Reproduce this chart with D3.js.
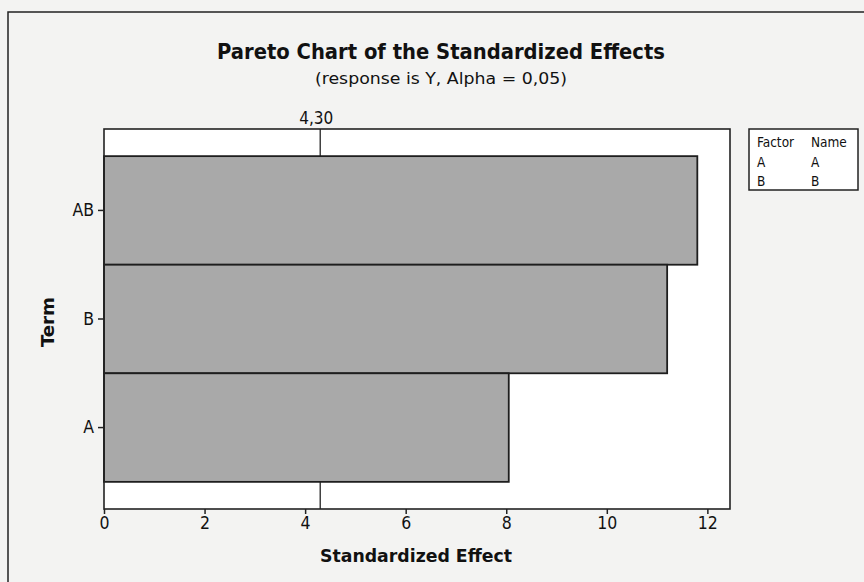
<!DOCTYPE html>
<html><head><meta charset="utf-8">
<script src="https://cdn.jsdelivr.net/npm/d3@7"></script>
<style>body{margin:0;background:#f3f3f2;} svg{display:block;}</style>
</head><body>
<svg id="chart" width="864" height="582"></svg>
<script>
const terms = ["AB", "B", "A"];
const effects = [11.8, 11.2, 8.05];
const xTicks = [0, 2, 4, 6, 8, 10, 12];
const refValue = 4.30;
const refLabel = "4,30";
const legendRows = [["Factor", "Name"], ["A", "A"], ["B", "B"]];

const svg = d3.select("#chart");
const font = "'DejaVu Sans Condensed', 'DejaVu Sans', sans-serif";
const L = 104, R = 730, T = 129, B = 509;

svg.append("rect").attr("x", 0).attr("y", 0).attr("width", 864).attr("height", 582).attr("fill", "#f3f3f2");
svg.append("rect").attr("x", 8).attr("y", 12).attr("width", 880).attr("height", 600)
  .attr("fill", "none").attr("stroke", "#222").attr("stroke-width", 1.5);

const x = d3.scaleLinear().domain([0, 12.45]).range([L, R]);
const y = d3.scaleBand().domain(terms).range([T, B]).paddingInner(0).paddingOuter(0.25);

svg.append("rect").attr("x", L).attr("y", T).attr("width", R - L).attr("height", B - T)
  .attr("fill", "#ffffff");

svg.append("line").attr("x1", x(refValue)).attr("x2", x(refValue)).attr("y1", T).attr("y2", B)
  .attr("stroke", "#222").attr("stroke-width", 1.3);

svg.selectAll("rect.bar").data(terms).enter().append("rect").attr("class", "bar")
  .attr("x", x(0)).attr("y", d => y(d))
  .attr("width", (d, i) => x(effects[i]) - x(0)).attr("height", y.bandwidth())
  .attr("fill", "#a9a9a9").attr("stroke", "#1e1e1e").attr("stroke-width", 1.8);

svg.append("text").attr("x", x(refValue) - 4).attr("y", 124).attr("text-anchor", "middle")
  .attr("font-family", font).attr("font-stretch", "condensed").attr("font-size", 17).attr("fill", "#111").text(refLabel);

svg.append("rect").attr("x", L).attr("y", T).attr("width", R - L).attr("height", B - T)
  .attr("fill", "none").attr("stroke", "#222").attr("stroke-width", 1.6);

const xAxis = svg.append("g").attr("transform", `translate(0,${B})`)
  .call(d3.axisBottom(x).tickValues(xTicks).tickSize(5).tickPadding(3).tickFormat(d3.format("d")));
xAxis.select(".domain").remove();
xAxis.selectAll("line").attr("stroke", "#222").attr("stroke-width", 1.5);
xAxis.selectAll("text").attr("font-family", font).attr("font-stretch", "condensed")
  .attr("font-size", 17.5).attr("fill", "#111");

const yAxis = svg.append("g").attr("transform", `translate(${L},0)`)
  .call(d3.axisLeft(y).tickSize(6).tickPadding(4));
yAxis.select(".domain").remove();
yAxis.selectAll("line").attr("stroke", "#222").attr("stroke-width", 1.5);
yAxis.selectAll("text").attr("font-family", font).attr("font-stretch", "condensed")
  .attr("font-size", 17.5).attr("fill", "#111");

svg.append("text").attr("x", 441).attr("y", 59).attr("text-anchor", "middle")
  .attr("font-family", font).attr("font-weight", "bold").attr("font-size", 21)
  .attr("textLength", 448).attr("lengthAdjust", "spacingAndGlyphs").attr("fill", "#111")
  .text("Pareto Chart of the Standardized Effects");
svg.append("text").attr("x", 441).attr("y", 84).attr("text-anchor", "middle")
  .attr("font-family", font).attr("font-size", 16.5)
  .attr("textLength", 252).attr("lengthAdjust", "spacingAndGlyphs").attr("fill", "#111")
  .text("(response is Y, Alpha = 0,05)");

svg.append("text").attr("x", 416).attr("y", 562).attr("text-anchor", "middle")
  .attr("font-family", font).attr("font-weight", "bold").attr("font-size", 18)
  .attr("textLength", 192).attr("lengthAdjust", "spacingAndGlyphs").attr("fill", "#111")
  .text("Standardized Effect");
svg.append("text").attr("transform", "translate(54,322) rotate(-90)").attr("text-anchor", "middle")
  .attr("font-family", font).attr("font-weight", "bold").attr("font-size", 18)
  .attr("textLength", 50).attr("lengthAdjust", "spacingAndGlyphs")
  .attr("fill", "#111").text("Term");

const lg = svg.append("g");
lg.append("rect").attr("x", 749).attr("y", 129).attr("width", 109).attr("height", 61)
  .attr("fill", "#fff").attr("stroke", "#222").attr("stroke-width", 1.5);
legendRows.forEach((r, i) => {
  lg.append("text").attr("x", 757).attr("y", 147 + i * 19.5).attr("font-family", font)
    .attr("font-stretch", "condensed").attr("font-size", 13.5).attr("fill", "#111").text(r[0]);
  lg.append("text").attr("x", 811).attr("y", 147 + i * 19.5).attr("font-family", font)
    .attr("font-stretch", "condensed").attr("font-size", 13.5).attr("fill", "#111").text(r[1]);
});
</script>
</body></html>
